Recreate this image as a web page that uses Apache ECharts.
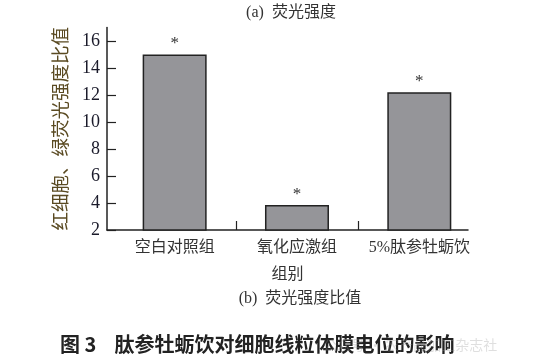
<!DOCTYPE html>
<html><head><meta charset="utf-8">
<script src="https://cdn.jsdelivr.net/npm/echarts@6/dist/echarts.min.js"></script>
<style>html,body{margin:0;padding:0;background:#fff}#c{width:544px;height:361px}</style>
</head><body><div id="c"></div>
<script>
const categories = ['空白对照组', '氧化应激组', '5%肽参牡蛎饮'];
const values = [15.0, 3.85, 12.2];
const marks = ['*', '*', '*'];
const yTicks = [2, 4, 6, 8, 10, 12, 14, 16];

const serif = '"Liberation Serif","Noto Sans CJK SC",serif';
const chart = echarts.init(document.getElementById('c'));
chart.setOption({
  animation: false,
  backgroundColor: '#fff',
  title: [
    {text: '(a)  荧光强度', left: 286, top: 0, textAlign: 'center',
     textStyle: {fontFamily: serif, fontSize: 16, fontWeight: 'normal', color: '#333'}},
    {text: '(b)  荧光强度比值', left: 295, top: 286, textAlign: 'center',
     textStyle: {fontFamily: serif, fontSize: 16, fontWeight: 'normal', color: '#333'}},
    {text: '图 3    肽参牡蛎饮对细胞线粒体膜电位的影响', left: 55, top: 329,
     textStyle: {fontFamily: '"Noto Sans CJK SC",sans-serif', fontSize: 20, fontWeight: 'bold', color: '#222'}},
    {text: '公众号 · 农产品加工杂志社', left: 318, top: 333,
     textStyle: {fontFamily: '"Noto Sans CJK SC",sans-serif', fontSize: 14, fontWeight: 'normal', color: 'rgba(150,150,150,0.3)'}}
  ],
  grid: {left: 107, right: 76, top: 27.5, bottom: 131},
  xAxis: {
    type: 'value', min: -0.553, max: 2.398,
    name: '组别', nameLocation: 'middle', nameGap: 37,
    nameTextStyle: {fontFamily: serif, fontSize: 16, color: '#333'},
    splitLine: {show: false},
    axisLine: {show: true, onZero: false, lineStyle: {color: '#222', width: 1.5}},
    axisTick: {show: true, inside: true, length: 9, customValues: [0.5, 1.5], lineStyle: {color: '#222', width: 1.2}},
    axisLabel: {customValues: [0, 1, 2], margin: 10, fontFamily: serif, fontSize: 16, color: '#333',
      formatter: v => categories[Math.round(v)]}
  },
  yAxis: {
    type: 'value', min: 2, max: 17,
    name: '红细胞、绿荧光强度比值', nameLocation: 'middle', nameRotate: 90, nameGap: 36,
    nameTextStyle: {fontFamily: serif, fontSize: 18.5, color: '#5a4a22'},
    splitLine: {show: false},
    axisLine: {show: true, onZero: false, lineStyle: {color: '#222', width: 1.5}},
    axisTick: {show: true, inside: true, length: 9, customValues: yTicks, lineStyle: {color: '#222', width: 1.2}},
    axisLabel: {customValues: yTicks, margin: 7, fontFamily: serif, fontSize: 18, color: '#1a1a2a'}
  },
  series: [{
    type: 'bar', barWidth: 64,
    data: values.map((v, i) => [i, v]),
    itemStyle: {color: '#959599', borderColor: '#222', borderWidth: 1.5},
    label: {show: true, position: 'top', distance: 2,
      formatter: p => marks[p.dataIndex], fontFamily: serif, fontSize: 17, color: '#333'}
  }]
});
</script></body></html>
